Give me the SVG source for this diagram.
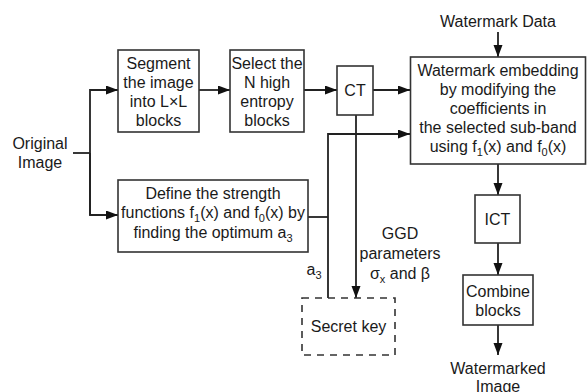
<svg xmlns="http://www.w3.org/2000/svg" width="587" height="392" viewBox="0 0 587 392">
<style>
text{font-family:"Liberation Sans",Arial,sans-serif;font-size:16px;fill:#1a1a1a;text-anchor:middle}
.box{fill:#fff;stroke:#333;stroke-width:1.6}
.dash{fill:none;stroke:#333;stroke-width:1.6;stroke-dasharray:7,6}
.ln{fill:none;stroke:#222;stroke-width:1.8}
.sub{font-size:11px}
</style>
<defs>
<marker id="ah" markerUnits="userSpaceOnUse" markerWidth="13" markerHeight="10" refX="12" refY="4.5" orient="auto">
<path d="M0,0 L12,4.5 L0,9 z" fill="#111"/>
</marker>
</defs>
<rect width="587" height="392" fill="#fff"/>
<g id="connectors">
<path class="ln" d="M73,153 H90"/>
<path class="ln" d="M90,215 V90 H118" marker-end="url(#ah)"/>
<path class="ln" d="M90,153 V215 H118" marker-end="url(#ah)"/>
<path class="ln" d="M199,90 H230" marker-end="url(#ah)"/>
<path class="ln" d="M304,90 H337" marker-end="url(#ah)"/>
<path class="ln" d="M373,90 H410" marker-end="url(#ah)"/>
<path class="ln" d="M498,32 V57" marker-end="url(#ah)"/>
<path class="ln" d="M328,298 V134 H410" marker-end="url(#ah)"/>
<path class="ln" d="M308,217 H328"/>
<path class="ln" d="M356,115 V298" marker-end="url(#ah)"/>
<path class="ln" d="M498,164 V195" marker-end="url(#ah)"/>
<path class="ln" d="M498,243 V275" marker-end="url(#ah)"/>
<path class="ln" d="M498,325 V355" marker-end="url(#ah)"/>
</g>
<g id="original">
<text x="40" y="149">Original</text>
<text x="40" y="168">Image</text>
</g>
<g id="segment">
<rect class="box" x="118" y="50" width="81" height="82"/>
<text x="158.5" y="68.5">Segment</text>
<text x="158.5" y="87.5">the image</text>
<text x="158.5" y="106.5">into L×L</text>
<text x="158.5" y="125.5">blocks</text>
</g>
<g id="select">
<rect class="box" x="230" y="50" width="74" height="82"/>
<text x="267" y="68.5">Select the</text>
<text x="267" y="87.5">N high</text>
<text x="267" y="106.5">entropy</text>
<text x="267" y="125.5">blocks</text>
</g>
<g id="ct">
<rect class="box" x="337" y="66" width="36" height="49"/>
<text x="355" y="96">CT</text>
</g>
<g id="watermark-data">
<text x="498" y="27">Watermark Data</text>
</g>
<g id="embedding">
<rect class="box" x="410.5" y="57" width="175" height="107"/>
<text x="498" y="75.5">Watermark embedding</text>
<text x="498" y="94.5">by modifying the</text>
<text x="498" y="113.5">coefficients in</text>
<text x="498" y="133">the selected sub-band</text>
<text x="498" y="152">using f<tspan class="sub" dy="4">1</tspan><tspan dy="-4">(x) and f</tspan><tspan class="sub" dy="4">0</tspan><tspan dy="-4">(x)</tspan></text>
</g>
<g id="define">
<rect class="box" x="118" y="180" width="190" height="72"/>
<text x="213" y="198.5">Define the strength</text>
<text x="213" y="217.5">functions f<tspan class="sub" dy="4">1</tspan><tspan dy="-4">(x) and f</tspan><tspan class="sub" dy="4">0</tspan><tspan dy="-4">(x) by</tspan></text>
<text x="213" y="237.5">finding the optimum a<tspan class="sub" dy="4">3</tspan></text>
</g>
<g id="a3-label">
<text x="314" y="275">a<tspan class="sub" dy="4">3</tspan></text>
</g>
<g id="ggd-label">
<text x="400" y="238.5">GGD</text>
<text x="400" y="258.5">parameters</text>
<text x="400" y="278.5">σ<tspan class="sub" dy="4">x</tspan><tspan dy="-4"> and β</tspan></text>
</g>
<g id="secret-key">
<rect class="dash" x="302" y="298" width="93" height="57"/>
<text x="348.5" y="332">Secret key</text>
</g>
<g id="ict">
<rect class="box" x="475" y="195" width="45" height="48"/>
<text x="497.5" y="225">ICT</text>
</g>
<g id="combine">
<rect class="box" x="463" y="275" width="70" height="50"/>
<text x="498" y="297">Combine</text>
<text x="498" y="316">blocks</text>
</g>
<g id="watermarked">
<text x="498" y="373.5">Watermarked</text>
<text x="498" y="392">Image</text>
</g>
</svg>
